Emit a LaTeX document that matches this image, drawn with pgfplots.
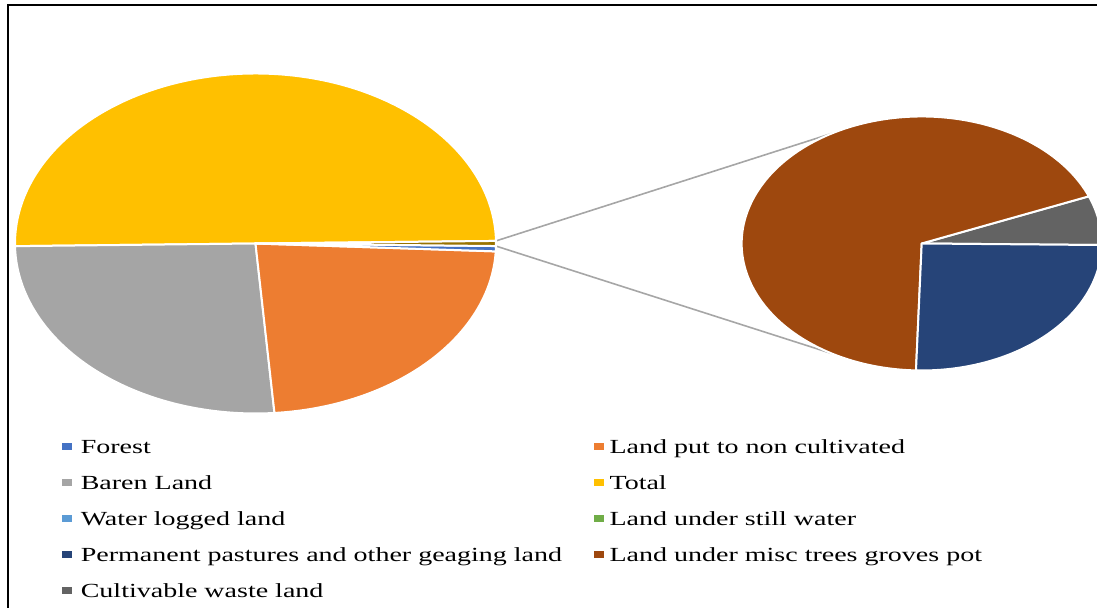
\documentclass[border=0pt]{standalone}
\usepackage{pgfplots}
\pgfplotsset{compat=1.18}
\usepackage{pgfplotstable}
\usepackage{graphicx}
\usepackage{fontspec}
\setmainfont{Liberation Serif}

\definecolor{cForest}{HTML}{4472C4}
\definecolor{cNonCult}{HTML}{ED7D31}
\definecolor{cBaren}{HTML}{A5A5A5}
\definecolor{cTotal}{HTML}{FFC000}
\definecolor{cWater}{HTML}{5B9BD5}
\definecolor{cStill}{HTML}{70AD47}
\definecolor{cPast}{HTML}{264478}
\definecolor{cMisc}{HTML}{9E480E}
\definecolor{cWaste}{HTML}{636363}
\definecolor{cOther}{HTML}{997300}
\definecolor{cLine}{HTML}{A6A6A6}

% land-use values (Total = sum of the other categories)
\pgfplotstableread{
name value
Forest 10
NonCult 460
Baren 520
Total 1000
WaterLogged 0
StillWater 0
Pastures 2.43
MiscTrees 6.57
Waste 0.6
}\landdata

\pgfplotstablegetelem{0}{value}\of\landdata \let\vF\pgfplotsretval
\pgfplotstablegetelem{1}{value}\of\landdata \let\vL\pgfplotsretval
\pgfplotstablegetelem{2}{value}\of\landdata \let\vB\pgfplotsretval
\pgfplotstablegetelem{3}{value}\of\landdata \let\vT\pgfplotsretval
\pgfplotstablegetelem{4}{value}\of\landdata \let\vW\pgfplotsretval
\pgfplotstablegetelem{5}{value}\of\landdata \let\vS\pgfplotsretval
\pgfplotstablegetelem{6}{value}\of\landdata \let\vP\pgfplotsretval
\pgfplotstablegetelem{7}{value}\of\landdata \let\vM\pgfplotsretval
\pgfplotstablegetelem{8}{value}\of\landdata \let\vC\pgfplotsretval

\pgfmathsetmacro\vO{\vW+\vS+\vP+\vM+\vC}
\pgfmathsetmacro\vSum{\vF+\vL+\vB+\vT+\vO}
\pgfmathsetmacro\aO{360*(\vO/\vSum)}
\pgfmathsetmacro\aA{\aO/2}
\pgfmathsetmacro\aZ{-\aO/2}
\pgfmathsetmacro\aB{\aA+360*(\vT/\vSum)}
\pgfmathsetmacro\aC{\aB+360*(\vB/\vSum)}
\pgfmathsetmacro\aD{\aC+360*(\vL/\vSum)}
\pgfmathsetmacro\aE{\aD+360*(\vF/\vSum)}
\def\sA{-0.7}
\pgfmathsetmacro\sB{\sA+360*(\vC/\vO)}
\pgfmathsetmacro\sC{\sB+360*(\vM/\vO)}
\pgfmathsetmacro\sD{\sC+360*(\vP/\vO)}

% slice: cx, cy, x radius, y radius, start, end, colour
\newcommand\slice[7]{%
  \fill[#7, draw=white, line width=1pt, line join=round]
    (axis cs:#1,#2) -- ++(#5:#3 and #4)
    arc[start angle=#5, end angle=#6, x radius=#3, y radius=#4] -- cycle;}

\pgfplotsset{
  keyA/.style={/pgfplots/legend image code/.code={\fill[#1] (0pt,2.5pt) rectangle (4.5pt,5.5pt); \path (0pt,0pt) (9pt,0pt);}},
  keyB/.style={/pgfplots/legend image code/.code={\fill[#1] (0pt,2.5pt) rectangle (4.5pt,5.5pt); \path (0pt,0pt) (7.5pt,0pt);}},
}
\newcommand\colA[1]{\makebox[256.5pt][l]{\scalebox{1.4}[1]{#1}}}
\newcommand\colB[1]{\scalebox{1.4}[1]{#1}}

\begin{document}
\begin{tikzpicture}
\begin{axis}[
  scale only axis, width=548.5pt, height=304pt,
  xmin=0, xmax=1097, ymin=0, ymax=608,
  axis lines=none, clip=true,
  legend columns=2,
  legend style={at={(axis cs:62,168)}, anchor=north west, draw=none, fill=none,
    inner sep=0pt, outer sep=0pt, row sep=9pt, column sep=0pt,
    cells={anchor=base west},
    nodes={inner sep=0pt, text height=7pt, text depth=2pt, font=\fontsize{10}{12}\selectfont}},
]
% frame
\draw[black, line width=1.3pt] (axis cs:8,-20) -- (axis cs:8,603) -- (axis cs:1130,603);
% connector lines
\draw[cLine, line width=0.8pt] (axis cs:255.5,364.5) ++(\aA:120.25pt and 85pt) -- (axis cs:831.7,474.5);
\draw[cLine, line width=0.8pt] (axis cs:255.5,364.5) ++(\aZ:120.25pt and 85pt) -- (axis cs:831.7,254.5);
% main pie
\slice{255.5}{364.5}{120.25pt}{85pt}{\aA}{\aB}{cTotal}
\slice{255.5}{364.5}{120.25pt}{85pt}{\aB}{\aC}{cBaren}
\slice{255.5}{364.5}{120.25pt}{85pt}{\aC}{\aD}{cNonCult}
\slice{255.5}{364.5}{120.25pt}{85pt}{\aD}{\aE}{cForest}
\slice{255.5}{364.5}{120.25pt}{85pt}{\aZ}{\aA}{cOther}
% second pie
\slice{921.7}{364.5}{90pt}{63.5pt}{\sA}{\sB}{cWaste}
\slice{921.7}{364.5}{90pt}{63.5pt}{\sB}{\sC}{cMisc}
\slice{921.7}{364.5}{90pt}{63.5pt}{\sC}{\sD}{cPast}
% legend
\addlegendimage{keyA=cForest}\addlegendentry{\colA{Forest}}
\addlegendimage{keyB=cNonCult}\addlegendentry{\colB{Land put to non cultivated}}
\addlegendimage{keyA=cBaren}\addlegendentry{\colA{Baren Land}}
\addlegendimage{keyB=cTotal}\addlegendentry{\colB{Total}}
\addlegendimage{keyA=cWater}\addlegendentry{\colA{Water logged land}}
\addlegendimage{keyB=cStill}\addlegendentry{\colB{Land under still water}}
\addlegendimage{keyA=cPast}\addlegendentry{\colA{Permanent pastures and other geaging land}}
\addlegendimage{keyB=cMisc}\addlegendentry{\colB{Land under misc trees groves pot}}
\addlegendimage{keyA=cWaste}\addlegendentry{\colA{Cultivable waste land}}
\end{axis}
\pgfresetboundingbox
\path (current axis.south west) rectangle (current axis.north east);
\end{tikzpicture}
\end{document}
